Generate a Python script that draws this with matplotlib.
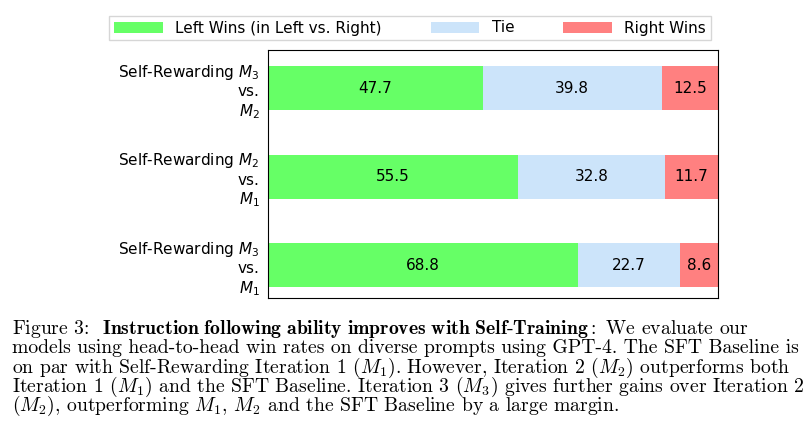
import numpy as np
import matplotlib.pyplot as plt

plt.rcParams["mathtext.fontset"] = "cm"

# ── Data ────────────────────────────────────────────────────────────────────
comparisons = [
    "Self-Rewarding $M_3$\nvs.\n$M_2$",
    "Self-Rewarding $M_2$\nvs.\n$M_1$",
    "Self-Rewarding $M_3$\nvs.\n$M_1$",
]
left_wins = [47.7, 55.5, 68.8]
ties = [39.8, 32.8, 22.7]
right_wins = [12.5, 11.7, 8.6]

series_names = ["Left Wins (in Left vs. Right)", "Tie", "Right Wins"]
COLS = ["#66ff66", "#cce4fa", "#ff8080"]

caption_lines = [
    r"Figure 3:  $\mathbf{Instruction\ following\ ability\ improves\ with\ Self}$-$\mathbf{Training:}$ We evaluate our",
    r"models using head-to-head win rates on diverse prompts using GPT-4. The SFT Baseline is",
    r"on par with Self-Rewarding Iteration 1 ($M_1$). However, Iteration 2 ($M_2$) outperforms both",
    r"Iteration 1 ($M_1$) and the SFT Baseline. Iteration 3 ($M_3$) gives further gains over Iteration 2",
    r"($M_2$), outperforming $M_1$, $M_2$ and the SFT Baseline by a large margin.",
]

fig = plt.figure(figsize=(8.12, 4.38), dpi=100)
ax = fig.add_axes([268 / 812, 1 - 298 / 438, 450 / 812, 248 / 438])

y = np.arange(len(comparisons))[::-1]
left = np.zeros(len(comparisons))
for name, vals, col in zip(series_names, [left_wins, ties, right_wins], COLS):
    bars = ax.barh(y, vals, left=left, height=0.5, color=col, label=name)
    for b, v in zip(bars, vals):
        ax.text(b.get_x() + b.get_width() / 2, b.get_y() + b.get_height() / 2,
                f"{v}", ha="center", va="center", fontsize=11)
    left += np.array(vals)

ax.set_xlim(0, 100)
ax.set_ylim(-0.37, 2.43)
ax.set_xticks([])
ax.set_yticks(y)
ax.set_yticklabels(comparisons, fontsize=11, ha="right", math_fontfamily="dejavusans")
ax.tick_params(axis="y", length=0, pad=6)

fig.legend(loc="center", bbox_to_anchor=(410 / 812, 1 - 28 / 438), ncol=3,
           fontsize=11, handlelength=3.2, columnspacing=3.2, frameon=True,
           fancybox=False, borderpad=0.3)

# caption, sized so the full lines span ~12..805 px
renderer = fig.canvas.get_renderer()
texts = []
for i, line in enumerate(caption_lines):
    t = fig.text(12 / 812, 1 - (329 + i * 19.2) / 438, line, family="cmr10",
                 fontsize=12, ha="left", va="center")
    texts.append(t)
widths = [t.get_window_extent(renderer).width for t in texts[:4]]
scale = 793 / max(widths)
for t in texts:
    t.set_fontsize(12 * scale)

fig.savefig("out.png", dpi=100)
